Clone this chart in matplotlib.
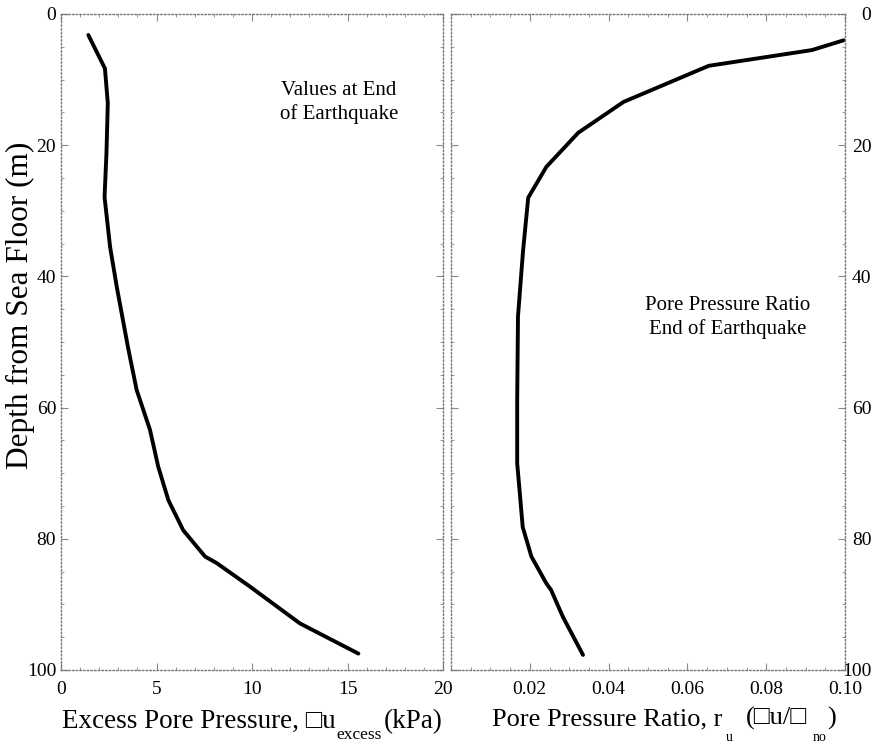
import matplotlib
matplotlib.use("Agg")
import matplotlib.pyplot as plt
import numpy as np
from matplotlib.ticker import MultipleLocator, FormatStrFormatter, FixedLocator
from matplotlib.transforms import IdentityTransform

plt.rcParams["font.family"] = ["Liberation Serif", "DejaVu Sans"]

# excess pore pressure profile (kPa vs depth m)
depth_exc = [3.2, 7.3, 8.3, 13.6, 21.2, 27.9, 35.5, 41.6, 51.0, 57.3,
             63.4, 69.0, 74.1, 78.7, 82.7, 83.7, 87.3, 92.9, 97.5]
u_exc = [1.43, 2.13, 2.30, 2.45, 2.38, 2.28, 2.57, 2.92, 3.52, 3.96,
         4.66, 5.09, 5.62, 6.40, 7.54, 8.15, 9.90, 12.51, 15.57]

# pore pressure ratio profile
depth_ru = [4.0, 5.5, 7.9, 13.4, 18.1, 23.3, 28.0, 36.0, 46.1, 58.8,
            68.5, 72.6, 78.2, 82.7, 86.8, 87.8, 91.9, 97.7]
ru = [0.0997, 0.0916, 0.0654, 0.0438, 0.0323, 0.0242, 0.0196, 0.0183, 0.0170,
      0.0168, 0.0168, 0.0174, 0.0182, 0.0204, 0.0242, 0.0254, 0.0284, 0.0335]

exc_ticks = [0, 5, 10, 15, 20]
ru_ticks = [0.02, 0.04, 0.06, 0.08, 0.10]
depth_ticks = [0, 20, 40, 60, 80, 100]

W, H = 873, 745
fig = plt.figure(figsize=(W / 100, H / 100), dpi=100)

ax1 = fig.add_axes([61 / W, 1 - 670 / H, 382 / W, 656 / H])
ax2 = fig.add_axes([451 / W, 1 - 670 / H, 394 / W, 656 / H])


def style(ax):
    for sp in ax.spines.values():
        sp.set_linestyle(":")
        sp.set_color("#777777")
        sp.set_linewidth(1.0)
    ax.tick_params(which="both", direction="in", top=True, right=True,
                   color="#888888", labelsize=14)
    ax.tick_params(which="major", length=5, width=0.8)
    ax.tick_params(which="minor", length=2.5, width=0.6)


ax1.plot(u_exc, depth_exc, color="black", lw=2.8, solid_capstyle="round")
ax1.set_xlim(0, 20)
ax1.set_ylim(100, 0)
ax1.xaxis.set_major_locator(FixedLocator(exc_ticks))
ax1.xaxis.set_minor_locator(MultipleLocator(1))
ax1.yaxis.set_major_locator(FixedLocator(depth_ticks))
ax1.yaxis.set_minor_locator(MultipleLocator(5))
style(ax1)
ax1.tick_params(axis="y", pad=3.5)
ax1.tick_params(axis="x", pad=8)

ax2.plot(ru, depth_ru, color="black", lw=2.8, solid_capstyle="round")
ax2.set_xlim(0, 0.10)
ax2.set_ylim(100, 0)
ax2.xaxis.set_major_locator(FixedLocator(ru_ticks))
ax2.xaxis.set_minor_locator(MultipleLocator(0.005))
ax2.xaxis.set_major_formatter(FormatStrFormatter("%.2f"))
ax2.yaxis.set_major_locator(FixedLocator(depth_ticks))
ax2.yaxis.set_minor_locator(MultipleLocator(5))
style(ax2)
ax2.tick_params(axis="y", labelleft=False, labelright=True, pad=19)
ax2.tick_params(axis="x", pad=8)
for lab in ax2.get_yticklabels():
    lab.set_horizontalalignment("right")

ax1.text(0.727, 0.865, "Values at End\nof Earthquake", transform=ax1.transAxes,
         ha="center", va="center", fontsize=15, linespacing=1.3)
ax2.text(0.703, 0.537, "Pore Pressure Ratio\nEnd of Earthquake", transform=ax2.transAxes,
         ha="center", va="center", fontsize=15, linespacing=1.3)

fig.text(20 / W, 1 - 305 / H, "Depth from Sea Floor (m)", rotation=90,
         ha="center", va="center", fontsize=22.5)

renderer = fig.canvas.get_renderer()


def chain(x, pieces):
    # pieces: (text, baseline y in image px, size, gap after in px)
    for s, y, size, gap in pieces:
        t = fig.text(x, H - y, s, fontsize=size, ha="left", va="baseline",
                     transform=IdentityTransform())
        bb = t.get_window_extent(renderer)
        x = bb.x1 + gap


chain(62, [("Excess Pore Pressure, \u25a1u", 728, 19.5, 1),
           ("excess", 739, 12.5, 2),
           ("(kPa)", 728, 19.5, 0)])
chain(492, [("Pore Pressure Ratio, r", 725, 19.0, 3),
            ("u", 741, 10, 14),
            ("(\u25a1u/\u25a1", 725, 19.0, 5),
            ("no", 741, 10, 1),
            (")", 725, 19.0, 0)])

fig.savefig("out.png", dpi=100)
